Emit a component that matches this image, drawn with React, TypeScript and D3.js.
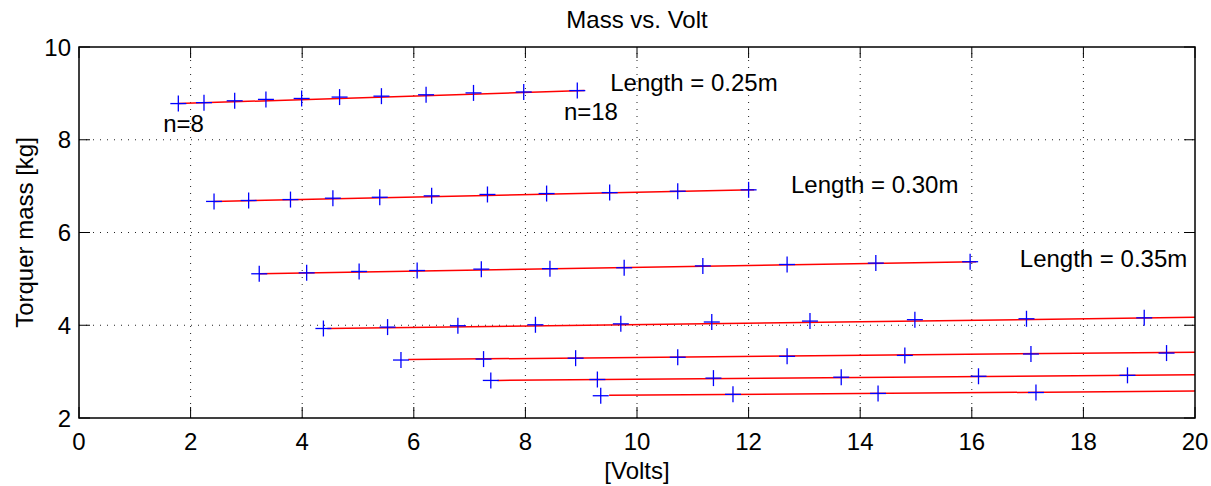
import React from "react";
import * as d3 from "d3";

const xTicks = [0, 2, 4, 6, 8, 10, 12, 14, 16, 18, 20];
const yTicks = [2, 4, 6, 8, 10];

// Measured points (volts, mass)
const s1x = [1.78, 2.24, 2.79, 3.35, 3.99, 4.67, 5.42, 6.22, 7.07, 7.97, 8.93];
const s1y = [8.78, 8.8, 8.84, 8.87, 8.89, 8.92, 8.94, 8.97, 9.01, 9.03, 9.06];
const s2x = [2.42, 3.04, 3.79, 4.55, 5.39, 6.32, 7.32, 8.38, 9.51, 10.73, 12.0];
const s2y = [6.67, 6.69, 6.71, 6.74, 6.76, 6.79, 6.82, 6.84, 6.86, 6.89, 6.92];
const s3x = [3.23, 4.08, 5.02, 6.06, 7.21, 8.44, 9.77, 11.18, 12.69, 14.28, 15.97];
const s3y = [5.11, 5.13, 5.16, 5.18, 5.21, 5.22, 5.24, 5.28, 5.31, 5.34, 5.37];
const s4x = [4.38, 5.53, 6.79, 8.18, 9.71, 11.34, 13.1, 14.98, 16.98, 19.09];
const s4y = [3.93, 3.96, 3.99, 4.01, 4.03, 4.07, 4.09, 4.12, 4.14, 4.16];
const s5x = [5.77, 7.25, 8.9, 10.73, 12.69, 14.8, 17.06, 19.49];
const s5y = [3.25, 3.27, 3.29, 3.31, 3.33, 3.35, 3.38, 3.4];
const s6x = [7.38, 9.29, 11.37, 13.66, 16.12, 18.79];
const s6y = [2.81, 2.83, 2.86, 2.88, 2.9, 2.92];
const s7x = [9.35, 11.72, 14.32, 17.15];
const s7y = [2.48, 2.51, 2.53, 2.55];

// Fit line endpoints [x0, y0, x1, y1]
const fit1 = [1.78, 8.78, 9.06, 9.06];
const fit2 = [2.42, 6.67, 12.1, 6.92];
const fit3 = [3.23, 5.11, 16.08, 5.37];
const fit4 = [4.45, 3.93, 20, 4.17];
const fit5 = [5.9, 3.26, 20, 3.42];
const fit6 = [7.5, 2.81, 20, 2.93];
const fit7 = [9.5, 2.49, 20, 2.58];

const seriesX = [s1x, s2x, s3x, s4x, s5x, s6x, s7x];
const seriesY = [s1y, s2y, s3y, s4y, s5y, s6y, s7y];
const fits = [fit1, fit2, fit3, fit4, fit5, fit6, fit7];

const labelTexts = ["Length = 0.25m", "Length = 0.30m", "Length = 0.35m", "n=8", "n=18"];
const labelX = [9.52, 12.76, 16.86, 1.51, 8.69];
const labelY = [9.05, 6.85, 5.26, 8.17, 8.43];

const W = 1211;
const H = 486;
const L = 79;
const R = 1195;
const T = 47;
const B = 418;
const FONT = "'Liberation Sans', Arial, Helvetica, sans-serif";

export default function App() {
  const x = d3.scaleLinear().domain([0, 20]).range([L, R]);
  const y = d3.scaleLinear().domain([2, 10]).range([B, T]);
  const tickLen = 11;

  const line = d3
    .line<[number, number]>()
    .x((d) => x(d[0]))
    .y((d) => y(d[1]));

  return (
    <svg
      width={W}
      height={H}
      style={{ position: "absolute", left: 0, top: 0, background: "#fff" }}
      fontFamily={FONT}
    >
      <defs>
        <clipPath id="plotclip">
          <rect x={L} y={T} width={R - L} height={B - T} />
        </clipPath>
      </defs>
      <rect x={0} y={0} width={W} height={H} fill="#fff" />
      {/* grid */}
      <g stroke="#222" strokeWidth={1} strokeDasharray="1 6">
        {xTicks.slice(1, -1).map((t) => (
          <line key={"gx" + t} x1={x(t)} x2={x(t)} y1={B} y2={T} />
        ))}
        {yTicks.slice(1, -1).map((t) => (
          <line key={"gy" + t} x1={L} x2={R} y1={y(t)} y2={y(t)} />
        ))}
      </g>
      {/* ticks */}
      <g stroke="#000" strokeWidth={1}>
        {xTicks.map((t) => (
          <g key={"tx" + t}>
            <line x1={x(t)} x2={x(t)} y1={B} y2={B - tickLen} />
            <line x1={x(t)} x2={x(t)} y1={T} y2={T + tickLen} />
          </g>
        ))}
        {yTicks.map((t) => (
          <g key={"ty" + t}>
            <line x1={L} x2={L + tickLen} y1={y(t)} y2={y(t)} />
            <line x1={R} x2={R - tickLen} y1={y(t)} y2={y(t)} />
          </g>
        ))}
      </g>
      {/* fit lines */}
      <g clipPath="url(#plotclip)" fill="none" stroke="#ff0000" strokeWidth={1.5}>
        {fits.map((f, i) => (
          <path
            key={"f" + i}
            d={line([
              [f[0], f[1]],
              [f[2], f[3]],
            ]) as string}
          />
        ))}
      </g>
      {/* markers */}
      <g stroke="#0000ff" strokeWidth={1.3}>
        {seriesX.map((xs, i) =>
          xs.map((v, j) => {
            const cx = x(v);
            const cy = y(seriesY[i][j]);
            return (
              <g key={"m" + i + "-" + j}>
                <line x1={cx - 8} x2={cx + 8} y1={cy} y2={cy} />
                <line x1={cx} x2={cx} y1={cy - 8} y2={cy + 8} />
              </g>
            );
          })
        )}
      </g>
      {/* box */}
      <rect x={L} y={T} width={R - L} height={B - T} fill="none" stroke="#000" strokeWidth={1.5} />
      {/* tick labels */}
      <g fontSize={24} fill="#000">
        {xTicks.map((t) => (
          <text key={"lx" + t} x={x(t)} y={450} textAnchor="middle">
            {t}
          </text>
        ))}
        {yTicks.map((t) => (
          <text key={"ly" + t} x={L - 8} y={y(t)} dy="0.36em" textAnchor="end">
            {t}
          </text>
        ))}
      </g>
      {/* annotations */}
      <g fontSize={24} fill="#000">
        {labelTexts.map((s, i) => (
          <text key={"a" + i} x={x(labelX[i])} y={y(labelY[i])}>
            {s}
          </text>
        ))}
      </g>
      {/* titles */}
      <text x={(L + R) / 2} y={28} textAnchor="middle" fontSize={24}>
        Mass vs. Volt
      </text>
      <text x={(L + R) / 2} y={479} textAnchor="middle" fontSize={24}>
        [Volts]
      </text>
      <text
        transform={`translate(33, ${(T + B) / 2}) rotate(-90)`}
        textAnchor="middle"
        fontSize={24}
      >
        Torquer mass [kg]
      </text>
    </svg>
  );
}
